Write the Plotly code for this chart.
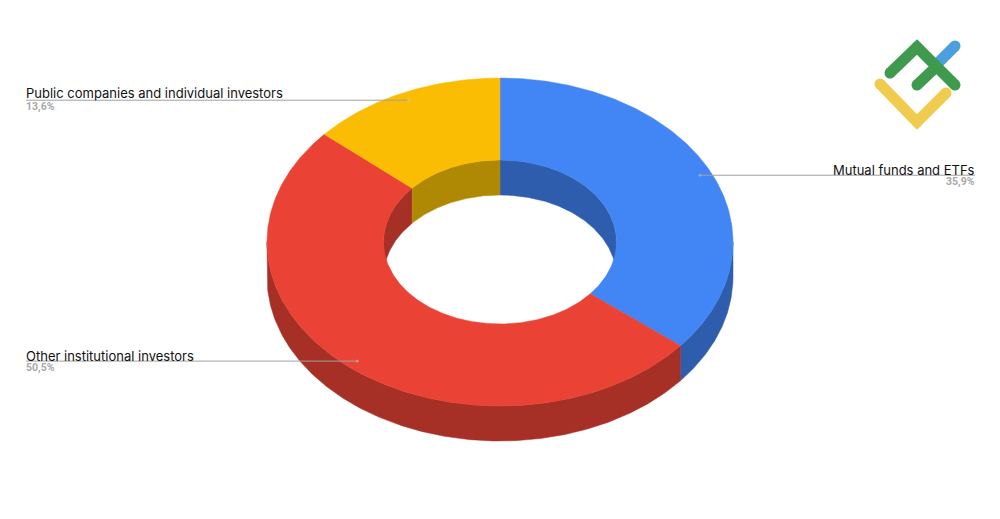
import numpy as np
import plotly.graph_objects as go

# Data
categories = ["Mutual funds and ETFs", "Other institutional investors", "Public companies and individual investors"]
shares = [35.9, 50.5, 13.6]

# Styles
top_colors = ["#4285F4", "#EA4335", "#FBBC04"]
wall_colors = ["#2F5DAD", "#A62F26", "#B08904"]
label_pos = [(975, 170, 181, "right"), (26, 356, 367, "left"), (26, 93, 106, "left")]
line_end_x = [975, 26, 26]

# Projection of the tilted donut (screen pixels)
CX, CY, RX, RY = 500.0, 242.0, 233.0, 164.0
HOLE = 0.5
DEPTH = 35.0
LABEL_R = 0.95


def arc(t0, t1, k=1.0, dy=0.0):
    t = np.radians(np.linspace(t0, t1, max(int(abs(t1 - t0)) * 2, 2)))
    return CX + k * RX * np.sin(t), CY - k * RY * np.cos(t) + dy


def poly(fig, x, y, color):
    fig.add_trace(go.Scatter(
        x=np.r_[x, x[0]], y=np.r_[y, y[0]], mode="lines", fill="toself",
        fillcolor=color, line=dict(color=color, width=0.5),
        hoverinfo="skip", showlegend=False))


def clip(a0, a1, b0, b1):
    lo, hi = max(a0, b0), min(a1, b1)
    return (lo, hi) if hi > lo else None


fig = go.Figure()

cum = np.cumsum([0] + shares) / sum(shares) * 360.0
spans = list(zip(cum[:-1], cum[1:]))

# inner back wall
for (a, b), c in zip(spans, wall_colors):
    for win in [(0, 90), (270, 360)]:
        part = clip(a, b, *win)
        if part:
            x1, y1 = arc(part[0], part[1], HOLE)
            x2, y2 = arc(part[1], part[0], HOLE, DEPTH)
            poly(fig, np.r_[x1, x2], np.r_[y1, y2], c)

# outer front wall
for (a, b), c in zip(spans, wall_colors):
    part = clip(a, b, 90, 270)
    if part:
        x1, y1 = arc(part[0], part[1])
        x2, y2 = arc(part[1], part[0], 1.0, DEPTH)
        poly(fig, np.r_[x1, x2], np.r_[y1, y2], c)

# top face
for (a, b), c in zip(spans, top_colors):
    x1, y1 = arc(a, b)
    x2, y2 = arc(b, a, HOLE)
    poly(fig, np.r_[x1, x2], np.r_[y1, y2], c)

# leader lines and labels
annotations = []
for (a, b), name, v, pos, xe in zip(spans, categories, shares, label_pos, line_end_x):
    m = (a + b) / 2
    ax, ay = arc(m, m + 0.01, LABEL_R)
    ax, ay = float(ax[0]), float(ay[0])
    fig.add_trace(go.Scatter(x=[ax, xe], y=[ay, ay], mode="lines",
                             line=dict(color="#A0A0A0", width=1),
                             hoverinfo="skip", showlegend=False))
    fig.add_trace(go.Scatter(x=[ax], y=[ay], mode="markers",
                             marker=dict(color="rgba(200,200,200,0.5)", size=3),
                             hoverinfo="skip", showlegend=False))
    x, y1, y2, side = pos
    annotations.append(dict(x=x, y=y1, text=name, xanchor=side, yanchor="middle", showarrow=False,
                            borderpad=0, borderwidth=0,
                            font=dict(family="Inter", size=13, color="#111111"), xref="x", yref="y"))
    annotations.append(dict(x=x, y=y2, text=f"{v:.1f}".replace(".", ",") + "%", xanchor=side, yanchor="middle",
                            showarrow=False, borderpad=0, borderwidth=0,
                            font=dict(family="Roboto", size=10.5, color="#A8A8A8", weight="bold"),
                            xref="x", yref="y"))

# logo
logo = [
    ([938, 955], [63, 46], "#4A9FDC"),
    ([880, 917, 946], [84, 122, 93], "#F0CB4E"),
    ([890, 917, 955], [73, 47, 85], "#3F9A4E"),
    ([917, 936], [85, 67], "#3F9A4E"),
]
for lx, ly, c in logo:
    fig.add_trace(go.Scatter(x=lx, y=ly, mode="lines+markers",
                             line=dict(color=c, width=11), marker=dict(color=c, size=11),
                             hoverinfo="skip", showlegend=False))

fig.update_layout(
    width=1000, height=519, margin=dict(l=0, r=0, t=0, b=0),
    paper_bgcolor="white", plot_bgcolor="white", showlegend=False,
    xaxis=dict(range=[0, 1000], visible=False, fixedrange=True),
    yaxis=dict(range=[519, 0], visible=False, fixedrange=True),
    annotations=annotations,
)
fig.write_html("out.html", config={"displayModeBar": False},
               post_script="document.body.style.margin='0';")
